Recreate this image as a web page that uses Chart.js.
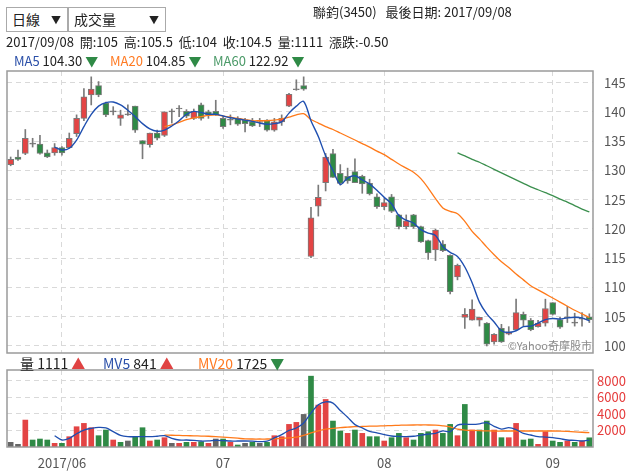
<!DOCTYPE html>
<html><head><meta charset="utf-8">
<script src="https://cdn.jsdelivr.net/npm/chart.js@4"></script>
<style>
body{margin:0;background:#fff;font-family:"Noto Sans CJK TC","Noto Sans",sans-serif;color:#222;}
#wrap{position:relative;width:632px;height:473px;overflow:hidden;}
canvas{position:absolute;left:0;top:0;}
.t{position:absolute;white-space:pre;font-size:13px;line-height:16px;}
.l{position:absolute;white-space:pre;font-size:13px;line-height:16px;}
.v{position:absolute;white-space:pre;font-size:14px;line-height:16px;}
.sel{position:absolute;border:1px solid #aaa;height:25px;box-sizing:border-box;font-size:14px;line-height:23px;padding-left:5px;background:#fff}
.arr{position:absolute;right:6px;top:0;font-size:10px}
.b{color:#2a4fa8}.o{color:#ff7a22}.g{color:#4b9a68}.dn{color:#2f8a46}.up{color:#e04343}
.wm{position:absolute;left:500px;width:92px;top:337px;text-align:right;font-size:11px;color:#8a8a8a;white-space:pre}
</style></head>
<body><div id="wrap">
<canvas id="c1" width="632" height="473"></canvas>
<canvas id="c2" width="632" height="473"></canvas>
<div class="sel" style="left:6px;top:7px;width:62px">日線<span class="arr">▼</span></div>
<div class="sel" style="left:68px;top:7px;width:98px">成交量<span class="arr">▼</span></div>
<div class="t" style="left:313px;top:4px">聯鈞(3450)   最後日期: 2017/09/08</div>
<div class="t" style="left:6px;top:34px">2017/09/08  開:105  高:105.5  低:104  收:104.5  量:1111  漲跌:-0.50</div>
<div class="l" style="left:14px;top:53px"><span class="b">MA5</span> 104.30 <span class="dn">▼</span></div>
<div class="l" style="left:110px;top:53px"><span class="o">MA20</span> 104.85 <span class="dn">▼</span></div>
<div class="l" style="left:213px;top:53px"><span class="g">MA60</span> 122.92 <span class="dn">▼</span></div>
<div class="v" style="left:20px;top:355px">量 1111 <span class="up">▲</span></div>
<div class="v" style="left:103px;top:355px"><span class="b">MV5</span> 841 <span class="up">▲</span></div>
<div class="v" style="left:198px;top:355px"><span class="o">MV20</span> 1725 <span class="dn">▼</span></div>
<div class="wm">©Yahoo奇摩股市</div>
</div>
<script>
// ---- data ----
const monthTickIndex = [7, 29, 51, 74];
const monthTickText = ['2017/06', '07', '08', '09'];
const priceTicks = [100, 105, 110, 115, 120, 125, 130, 135, 140, 145];
const volumeTicks = [2000, 4000, 6000, 8000];

const open = [131.0,132.3,132.9,134.5,134.5,133.0,133.0,133.9,133.9,136.3,
138.9,142.9,144.5,141.5,140.0,138.9,139.5,141.0,135.1,134.4,
136.4,136.0,140.0,140.5,140.1,138.9,141.2,140.0,140.1,138.9,
138.6,138.9,138.6,138.3,138.2,138.6,136.9,138.3,141.0,143.8,
144.5,115.3,123.9,127.9,132.9,129.5,129.0,129.8,129.0,127.8,
125.5,123.8,125.5,122.4,120.4,122.4,120.4,118.0,116.4,117.4,
115.5,111.8,104.9,104.4,104.4,103.9,100.7,103.0,102.0,102.8,
105.4,104.4,103.3,103.9,107.4,104.5,104.8,103.9,104.6,105.0];
const high = [132.3,133.5,137.0,135.5,136.0,133.5,134.6,134.1,136.4,139.5,
144.0,146.0,145.2,141.7,140.9,140.3,141.2,141.0,135.1,136.4,
136.9,140.0,140.5,141.1,140.4,140.5,141.5,140.3,142.0,139.2,
139.5,139.2,138.9,138.9,138.9,138.7,138.9,139.5,143.2,145.5,
146.0,123.7,127.5,132.9,133.6,131.0,130.4,132.0,129.2,128.5,
126.0,125.2,125.9,122.5,122.4,122.5,120.5,118.1,120.0,118.0,
115.6,114.0,106.4,107.9,104.9,104.0,102.1,103.7,103.3,108.0,
105.8,104.7,104.4,108.0,107.4,104.9,106.8,105.6,105.7,105.5];
const low = [130.8,131.7,132.7,134.0,132.8,132.2,132.6,132.6,133.8,135.8,
138.5,141.2,142.6,139.2,139.5,137.7,139.4,136.5,132.0,134.0,
135.2,135.8,138.1,139.2,139.0,138.7,138.6,138.9,139.4,137.2,
137.8,137.7,136.6,137.5,137.5,136.7,136.7,137.7,140.9,143.7,
143.7,115.1,122.2,126.5,128.8,127.5,127.8,127.9,126.1,125.8,
123.5,123.3,122.8,120.0,120.0,120.1,117.7,114.8,114.6,116.1,
108.9,111.3,103.0,104.4,103.4,100.0,100.3,100.6,101.9,102.7,
103.4,102.6,103.2,103.4,105.3,103.0,104.0,103.4,103.4,104.0];
const close = [131.9,131.9,135.5,134.5,132.9,132.3,133.9,133.0,135.5,138.9,
142.6,143.9,142.9,139.5,140.0,139.5,139.5,136.9,134.5,136.4,
135.5,140.0,140.0,140.5,139.3,140.1,138.9,139.5,139.5,137.5,
138.6,137.9,138.0,137.6,138.2,136.9,138.3,138.9,143.0,143.8,
143.9,121.9,125.4,132.3,128.8,127.8,128.2,127.9,127.7,126.0,
123.8,124.5,123.0,120.4,121.4,120.4,117.8,115.9,119.8,116.3,
109.3,113.8,105.4,106.3,104.9,100.3,102.0,100.7,102.4,105.7,
104.4,102.8,103.9,106.4,105.4,103.2,104.8,103.9,104.6,104.5];

const ma5 = [null,null,null,null,null,null,134.0,133.5,133.8,135.2,
137.5,139.6,141.0,141.6,141.7,141.2,140.3,139.2,138.0,137.1,
136.7,136.9,137.6,138.5,139.6,140.1,139.9,139.6,139.6,139.3,
139.0,138.8,138.6,138.4,138.1,137.9,138.0,138.3,139.8,141.0,
141.8,138.5,135.8,132.5,130.0,127.6,128.7,129.1,128.4,127.7,
126.6,125.4,124.3,122.3,121.5,121.0,119.9,119.3,118.9,117.0,
116.0,115.3,113.5,110.8,107.5,105.5,104.1,102.6,102.3,102.6,
103.3,103.4,103.9,104.5,104.7,104.6,104.8,104.9,104.8,104.3];
const ma20 = [null,null,null,null,null,null,null,null,null,null,
null,null,null,null,null,null,null,null,null,null,
null,137.5,137.8,138.2,138.7,139.0,139.2,139.4,139.5,139.3,
139.1,138.9,138.7,138.5,138.5,138.5,138.6,138.8,139.1,139.5,
139.7,138.7,138.1,137.5,137.0,136.4,135.8,135.2,134.6,134.0,
133.3,132.7,131.9,131.1,130.4,129.7,128.6,127.0,125.2,123.6,
123.0,122.6,121.3,119.6,118.3,116.9,115.6,114.4,113.4,112.3,
111.3,110.3,109.6,108.9,108.2,107.5,106.8,106.1,105.5,104.85];
const ma60 = [null,null,null,null,null,null,null,null,null,null,
null,null,null,null,null,null,null,null,null,null,
null,null,null,null,null,null,null,null,null,null,
null,null,null,null,null,null,null,null,null,null,
null,null,null,null,null,null,null,null,null,null,
null,null,null,null,null,null,null,null,null,null,
null,133.0,132.5,131.9,131.4,130.8,130.2,129.6,129.0,128.4,
127.8,127.2,126.7,126.2,125.7,125.1,124.6,124.0,123.4,122.92];

const volume = [562,321,3254,844,964,844,442,442,1245,2450,
2852,2330,1366,2049,844,562,723,1245,2330,723,
844,1125,442,442,562,562,643,442,964,964,
562,241,442,562,442,562,1366,1245,2731,2972,
3936,8555,5061,5744,3133,1928,1647,2049,1647,1245,
1245,723,1125,1647,1125,844,1647,1848,2049,1647,
2731,1366,5141,2049,2049,3133,2049,1125,1125,2852,
844,964,321,1848,723,562,723,562,723,1111];
// +1 = up vs previous close, -1 = down, 0 = flat
const volumeDir = [0,0,1,-1,-1,-1,1,-1,1,1,
1,1,-1,-1,1,-1,0,-1,-1,1,
-1,1,0,1,-1,1,-1,1,0,-1,
1,-1,0,-1,0,-1,1,1,1,1,
0,-1,1,1,-1,-1,1,-1,1,-1,
-1,1,-1,-1,1,-1,-1,-1,1,-1,
-1,1,-1,1,-1,-1,1,-1,1,1,
-1,-1,1,1,-1,-1,1,-1,1,-1];
const mv5 = [null,null,null,null,null,null,1366,844,1045,1600,
2050,2250,2370,2300,1848,1400,1245,1245,1245,1245,
1300,1366,1050,844,844,800,723,740,803,780,
723,723,723,700,660,700,1100,1500,2000,2300,
2900,4100,5100,5450,5300,4400,3600,2700,2300,1900,
1700,1500,1330,1280,1245,1300,1440,1550,1650,1950,
1850,2650,2750,2730,2800,2950,2500,2170,2330,2100,
1650,1450,1245,1200,1125,1000,844,800,723,841];
const mv20 = [null,null,null,null,null,null,null,null,null,null,
null,null,null,null,null,null,null,null,null,null,
null,1446,1420,1400,1370,1350,1320,1300,1260,1200,
1130,1060,980,964,964,964,990,1030,1100,1200,
1400,1700,1950,2150,2250,2350,2400,2450,2480,2510,
2530,2560,2590,2620,2650,2660,2660,2660,2640,2560,
2430,2150,2050,2000,1970,1950,1930,1930,1930,1930,
1930,1930,1930,1930,1930,1920,1880,1830,1780,1725];

// ---- drawing ----
const categories = close.map((_, i) => i);
const RED = '#e34444', GREEN = '#2f8a46', GRAY = '#707070';
const FONT = '"Noto Sans CJK TC","Noto Sans",sans-serif';
const GRID = '#d9d9d9';

const frame = {id:'frame', afterDatasetsDraw(chart){
  const {ctx, chartArea:a} = chart;
  ctx.save(); ctx.strokeStyle = '#9a9a9a'; ctx.lineWidth = 1.5;
  ctx.strokeRect(a.left, a.top, a.right - a.left, a.bottom - a.top);
  ctx.restore();
}};

const xGridColor = ctx => monthTickIndex.includes(ctx.index) ? GRID : 'rgba(0,0,0,0)';

new Chart(document.getElementById('c1'), {
  type: 'bar',
  data: {
    labels: categories,
    datasets: [
      {type:'line', data: ma5, borderColor:'#1f4fb0', borderWidth:1.4, pointRadius:0, tension:0.3, order:0},
      {type:'line', data: ma20, borderColor:'#ff7a1a', borderWidth:1.3, pointRadius:0, tension:0.3, order:0},
      {type:'line', data: ma60, borderColor:'#3b8f4e', borderWidth:1.3, pointRadius:0, tension:0.3, order:0},
      {data: open.map((o, i) => [o, close[i]]),
       backgroundColor: open.map((o, i) => close[i] > o ? RED : close[i] < o ? GREEN : GRAY),
       borderColor: '#7a7a7a', borderWidth: 1, borderSkipped: false,
       barThickness: 6, minBarLength: 1, grouped: false, order: 1},
      {data: low.map((l, i) => [l, high[i]]), backgroundColor: '#7a7a7a',
       barThickness: 1, grouped: false, order: 2}
    ]
  },
  options: {
    responsive:false, animation:false, events:[],
    layout:{padding:{left:7, top:71, bottom:120, right:0}},
    plugins:{legend:{display:false}, tooltip:{enabled:false}},
    scales:{
      x:{offset:true, grid:{offset:false, color:xGridColor, drawTicks:false}, border:{display:false, dash:[5,4]},
         ticks:{display:false}, afterFit:s => { s.height = 0; }},
      y:{position:'right', min:98.8, max:147,
         grid:{color:GRID, drawTicks:false}, border:{display:false, dash:[5,4]},
         ticks:{color:'#555', padding:11, font:{size:13, family:FONT}},
         afterFit:s => { s.width = 39; },
         afterBuildTicks:s => { s.ticks = priceTicks.map(v => ({value:v})); }}
    }
  },
  plugins:[frame]
});

new Chart(document.getElementById('c2'), {
  type: 'bar',
  data: {
    labels: categories,
    datasets: [
      {type:'line', data: mv5, borderColor:'#1f4fb0', borderWidth:1.3, pointRadius:0, tension:0.3, order:0},
      {type:'line', data: mv20, borderColor:'#ff7a1a', borderWidth:1.3, pointRadius:0, tension:0.3, order:0},
      {data: volume, backgroundColor: volumeDir.map(d => d > 0 ? RED : d < 0 ? GREEN : '#666'),
       barThickness: 5, order: 1}
    ]
  },
  options: {
    responsive:false, animation:false, events:[],
    layout:{padding:{left:7, top:370, bottom:0, right:0}},
    plugins:{legend:{display:false}, tooltip:{enabled:false}},
    scales:{
      x:{offset:true, grid:{offset:false, color:xGridColor, drawTicks:false}, border:{display:false, dash:[5,4]},
         ticks:{autoSkip:false, maxRotation:0, minRotation:0, padding:8, color:'#555', font:{size:13, family:FONT},
           callback:(v, i) => { const k = monthTickIndex.indexOf(i); return k >= 0 ? monthTickText[k] : ''; }},
         afterFit:s => { s.height = 26; }},
      y:{position:'right', min:0, max:9300,
         grid:{color:GRID, drawTicks:false}, border:{display:false, dash:[5,4]},
         ticks:{color:'#e53b3b', padding:4, font:{size:13, family:FONT}, callback:v => String(v)},
         afterFit:s => { s.width = 39; },
         afterBuildTicks:s => { s.ticks = volumeTicks.map(v => ({value:v})); }}
    }
  },
  plugins:[frame]
});
</script>
</body></html>
